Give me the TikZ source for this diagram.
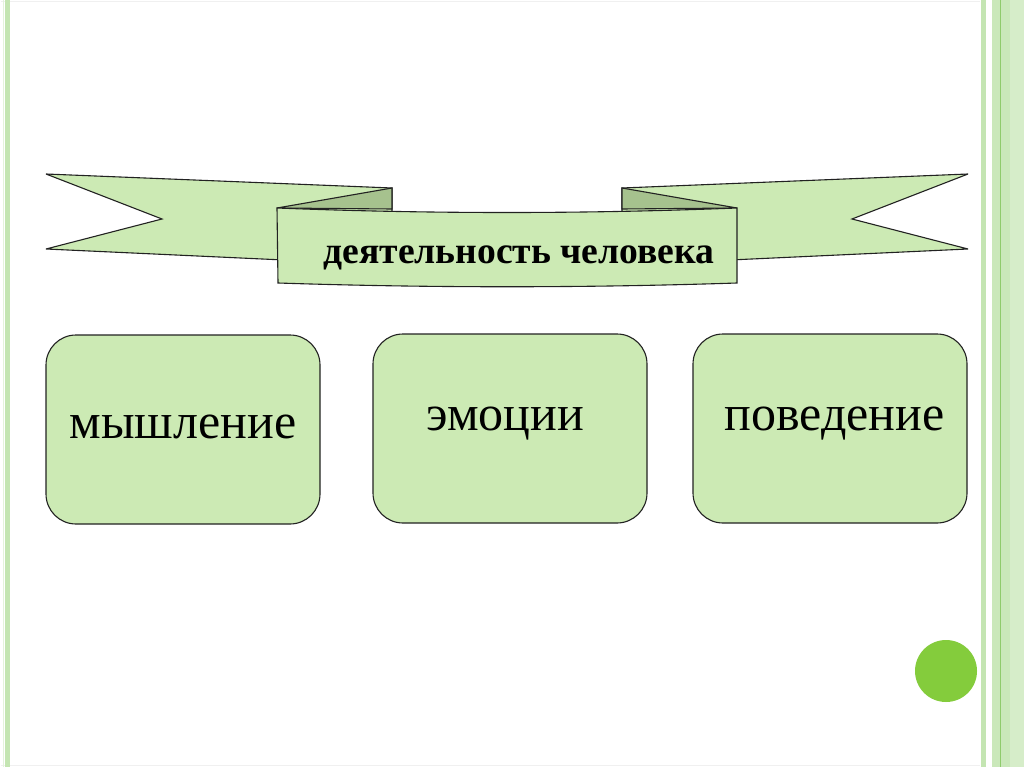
\documentclass[tikz,border=0pt]{standalone}
\usepackage{fontspec}
\setmainfont{Liberation Serif}
\definecolor{lgreen}{HTML}{CCEAB4}
\definecolor{fold}{HTML}{A6C28E}
\definecolor{edge}{HTML}{222222}
\definecolor{stripe}{HTML}{C4E5B2}
\definecolor{stripedk}{HTML}{8FCB6C}
\definecolor{dot}{HTML}{84CC3C}
\begin{document}
\begin{tikzpicture}[x=1pt,y=-1pt,
  shapeline/.style={draw=edge,line width=1.1pt,line join=miter,miter limit=4},
  box/.style={shapeline,fill=lgreen,rounded corners=30pt,minimum width=274pt,minimum height=189pt,inner sep=0pt},
  boxtext/.style={anchor=base,font=\fontsize{50}{50}\selectfont,inner sep=0pt},
  bantext/.style={anchor=base,font=\bfseries\fontsize{37.6}{38}\selectfont,inner sep=0pt}]
\useasboundingbox (0,0) rectangle (1024,767);
\fill[white] (0,0) rectangle (1024,767);
% page frame
\draw[black!6,line width=0.8pt] (1,1) -- (980,1);
\draw[black!6,line width=0.8pt] (1,765) -- (980,765);
\fill[stripe!45] (2.5,0) rectangle (4,767);
\fill[stripe] (5,0) rectangle (9.5,767);
\fill[stripe] (981,0) rectangle (985.5,767);
\fill[stripe!90] (992,0) rectangle (1024,767);
\fill[stripe!70] (1010,0) rectangle (1024,767);
\fill[stripedk] (999.5,0) rectangle (1001,767);
% circle
\node[circle,fill=dot,minimum size=62pt,inner sep=0pt] (dotc) at (946,671) {};
% left tail
\path[shapeline,fill=lgreen] (46,174) -- (392,188) -- (392,265) -- (46,249) -- (162,219) -- cycle;
\path[shapeline,fill=fold] (392,188) -- (392,209) -- (277,208) -- cycle;
% right tail
\path[shapeline,fill=lgreen] (968,174) -- (622,188) -- (622,265) -- (968,249) -- (852,219) -- cycle;
\path[shapeline,fill=fold] (622,188) -- (622,209) -- (737,208) -- cycle;
% front panel
\path[shapeline,fill=lgreen] (277,208) .. controls (430,214) and (584,214) .. (737,208) -- (737,283) .. controls (584,288) and (430,288) .. (278,283) -- cycle;
\node[bantext] (title) at (519,263) {деятельность человека};
% boxes
\node[box] (b1) at (183,429.5) {};
\node[box] (b2) at (510,428.5) {};
\node[box] (b3) at (830,428.5) {};
\node[boxtext] (t1) at (183,438) {мышление};
\node[boxtext] (t2) at (505,430) {эмоции};
\node[boxtext] (t3) at (834.5,430) {поведение};
\end{tikzpicture}
\end{document}
